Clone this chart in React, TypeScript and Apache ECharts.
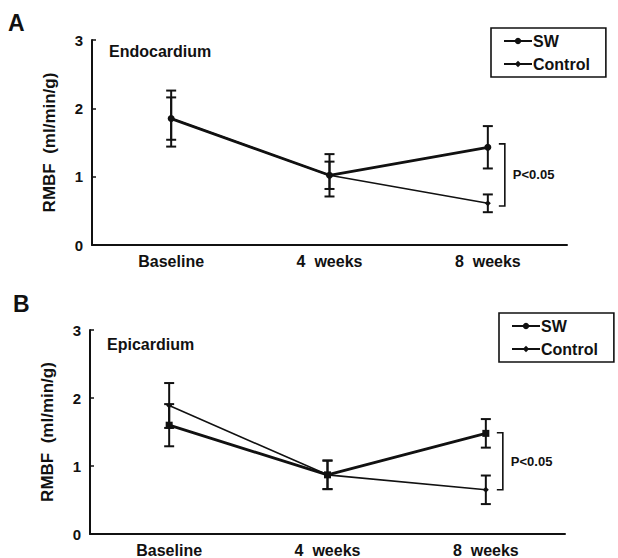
import React, { useEffect, useRef } from "react";
import * as echarts from "echarts";

const categories = ["Baseline", "4  weeks", "8  weeks"];
const yTicks = [0, 1, 2, 3];

// Panel A: Endocardium
const endoSW = [1.85, 1.02, 1.43];
const endoSWErr = [0.41, 0.31, 0.31];
const endoCtrl = [1.85, 1.02, 0.61];
const endoCtrlErr = [0.31, 0.2, 0.13];
const endoBracket = [0.57, 1.48];

// Panel B: Epicardium
const epiSW = [1.6, 0.87, 1.48];
const epiSWErr = [0.31, 0.21, 0.21];
const epiCtrl = [1.89, 0.87, 0.65];
const epiCtrlErr = [0.33, 0.21, 0.21];
const epiBracket = [0.65, 1.49];

const FONT = "'Liberation Sans', Arial, sans-serif";
const INK = "#111";

export default function App() {
  const ref = useRef<HTMLDivElement>(null);

  useEffect(() => {
    if (!ref.current) return;
    const chart = echarts.init(ref.current, null, { renderer: "svg" });

    const errData = (vals: number[], errs: number[]) =>
      vals.map((v, i) => [i, v, errs[i]]);

    const errRender = (params: any, api: any) => {
      const x = api.value(0);
      const y = api.value(1);
      const e = api.value(2);
      const top = api.coord([x, y + e]);
      const bot = api.coord([x, y - e]);
      const hw = 5;
      const style = { stroke: INK, lineWidth: 2 };
      return {
        type: "group",
        children: [
          { type: "line", shape: { x1: top[0], y1: top[1], x2: bot[0], y2: bot[1] }, style },
          { type: "line", shape: { x1: top[0] - hw, y1: top[1], x2: top[0] + hw, y2: top[1] }, style },
          { type: "line", shape: { x1: bot[0] - hw, y1: bot[1], x2: bot[0] + hw, y2: bot[1] }, style },
        ],
      };
    };

    const bracketRender = (params: any, api: any) => {
      const x = api.value(0);
      const lo = api.coord([x, api.value(1)]);
      const hi = api.coord([x, api.value(2)]);
      const bx = lo[0] + 17;
      return {
        type: "group",
        children: [
          {
            type: "polyline",
            shape: { points: [[bx - 6, hi[1]], [bx, hi[1]], [bx, lo[1]], [bx - 6, lo[1]]] },
            style: { stroke: INK, lineWidth: 1.6, fill: "none" },
          },
          {
            type: "text",
            x: bx + 8,
            y: (hi[1] + lo[1]) / 2,
            style: {
              text: "P<0.05",
              fill: INK,
              font: `bold 13px ${FONT}`,
              verticalAlign: "middle",
              align: "left",
            },
          },
        ],
      };
    };

    const xAxis = (gridIndex: number) => ({
      type: "category",
      gridIndex,
      data: categories,
      boundaryGap: true,
      axisLine: { lineStyle: { color: INK, width: 2 } },
      axisTick: { alignWithLabel: true, inside: true, length: 5, lineStyle: { color: INK, width: 1.5 } },
      axisLabel: { color: INK, fontFamily: FONT, fontWeight: "bold", fontSize: 16, margin: 8 },
      splitLine: { show: false },
    });

    const yAxis = (gridIndex: number) => ({
      type: "value",
      gridIndex,
      min: yTicks[0],
      max: yTicks[yTicks.length - 1],
      interval: 1,
      name: "RMBF  (ml/min/g)",
      nameLocation: "middle",
      nameGap: 34,
      nameRotate: 90,
      nameTextStyle: { color: INK, fontFamily: FONT, fontWeight: "bold", fontSize: 17 },
      axisLine: { show: true, lineStyle: { color: INK, width: 2 } },
      axisTick: { show: true, inside: true, length: 4, lineStyle: { color: INK, width: 1.5 } },
      axisLabel: { color: INK, fontFamily: FONT, fontWeight: "bold", fontSize: 15, margin: 9 },
      splitLine: { show: false },
    });

    const lineSeries = (
      name: string,
      data: number[],
      idx: number,
      symbol: string,
      size: number,
      width: number
    ) => ({
      type: "line",
      name,
      xAxisIndex: idx,
      yAxisIndex: idx,
      data,
      symbol,
      symbolSize: size,
      itemStyle: { color: INK },
      lineStyle: { color: INK, width },
      z: 3,
    });

    const legend = (left: number, top: number) => ({
      orient: "vertical",
      left,
      top,
      data: ["SW", "Control"],
      selectedMode: false,
      backgroundColor: "#fff",
      borderColor: INK,
      borderWidth: 1.6,
      borderRadius: 0,
      padding: [5, 16, 5, 12],
      itemWidth: 28,
      itemHeight: 8,
      itemGap: 7,
      textStyle: { color: INK, fontFamily: FONT, fontWeight: "bold", fontSize: 16, padding: [0, 0, 0, -4] },
    });

    chart.setOption({
      animation: false,
      backgroundColor: "#fff",
      title: [
        { text: "A", left: 8, top: 11, padding: 0, textStyle: { color: INK, fontFamily: FONT, fontWeight: "bold", fontSize: 23 } },
        { text: "Endocardium", left: 109, top: 43, padding: 0, textStyle: { color: INK, fontFamily: FONT, fontWeight: "bold", fontSize: 16 } },
        { text: "B", left: 13, top: 292, padding: 0, textStyle: { color: INK, fontFamily: FONT, fontWeight: "bold", fontSize: 23 } },
        { text: "Epicardium", left: 107, top: 336, padding: 0, textStyle: { color: INK, fontFamily: FONT, fontWeight: "bold", fontSize: 16 } },
      ],
      legend: [legend(491, 28), legend(499, 313)],
      grid: [
        { left: 92, top: 40, width: 475, height: 205 },
        { left: 90, top: 330, width: 475, height: 207 },
      ],
      xAxis: [xAxis(0), xAxis(1)],
      yAxis: [yAxis(0), yAxis(1)],
      series: [
        lineSeries("SW", endoSW, 0, "circle", 7, 2.8),
        lineSeries("Control", endoCtrl, 0, "diamond", 6, 1.6),
        lineSeries("SW", epiSW, 1, "rect", 7, 2.8),
        lineSeries("Control", epiCtrl, 1, "diamond", 6, 1.6),
        { type: "custom", xAxisIndex: 0, yAxisIndex: 0, data: errData(endoSW, endoSWErr), renderItem: errRender, encode: { x: 0, y: 1 }, z: 2 },
        { type: "custom", xAxisIndex: 0, yAxisIndex: 0, data: errData(endoCtrl, endoCtrlErr), renderItem: errRender, encode: { x: 0, y: 1 }, z: 2 },
        { type: "custom", xAxisIndex: 1, yAxisIndex: 1, data: errData(epiSW, epiSWErr), renderItem: errRender, encode: { x: 0, y: 1 }, z: 2 },
        { type: "custom", xAxisIndex: 1, yAxisIndex: 1, data: errData(epiCtrl, epiCtrlErr), renderItem: errRender, encode: { x: 0, y: 1 }, z: 2 },
        { type: "custom", xAxisIndex: 0, yAxisIndex: 0, data: [[2, endoBracket[0], endoBracket[1]]], renderItem: bracketRender, encode: { x: 0, y: [1, 2] }, z: 2 },
        { type: "custom", xAxisIndex: 1, yAxisIndex: 1, data: [[2, epiBracket[0], epiBracket[1]]], renderItem: bracketRender, encode: { x: 0, y: [1, 2] }, z: 2 },
      ],
    });

    return () => chart.dispose();
  }, []);

  return (
    <div
      ref={ref}
      style={{ position: "absolute", left: 0, top: 0, width: 618, height: 558, background: "#fff" }}
    />
  );
}
